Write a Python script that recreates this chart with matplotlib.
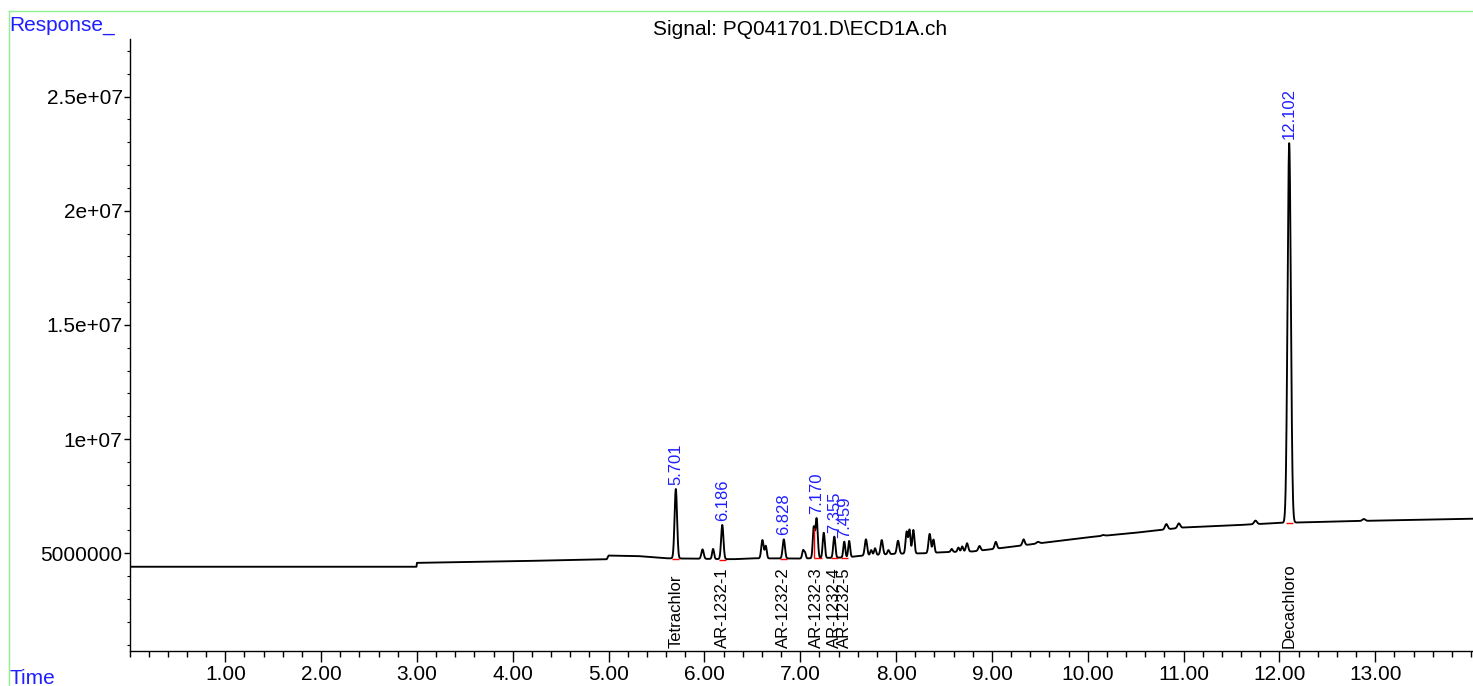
import numpy as np
import matplotlib
matplotlib.use("Agg")
import matplotlib.pyplot as plt
from matplotlib.ticker import MultipleLocator, FixedLocator, FuncFormatter
from matplotlib.lines import Line2D

plt.rcParams['font.family'] = ['Liberation Sans', 'DejaVu Sans']

# ---------------- data ----------------
title = "Signal: PQ041701.D\\ECD1A.ch"

# baseline knots: time (min), response
base_t = [0.0, 2.995, 3.0, 4.0, 4.98, 5.0, 5.3, 5.6, 6.3, 6.5, 7.0, 7.5, 7.6, 8.0,
          8.3, 8.5, 8.8, 9.0, 9.5, 10.0, 10.5, 11.0, 11.5, 12.0, 13.0, 14.1]
base_y = [4.41e6, 4.41e6, 4.58e6, 4.65e6, 4.74e6, 4.90e6, 4.88e6, 4.78e6, 4.74e6,
          4.78e6, 4.77e6, 4.82e6, 4.88e6, 4.98e6, 5.00e6, 5.05e6, 5.08e6, 5.18e6,
          5.44e6, 5.70e6, 5.90e6, 6.13e6, 6.22e6, 6.33e6, 6.43e6, 6.52e6]

# peaks: retention time, apex response, width (sigma, min)
peak_t = [5.701, 5.98, 6.09, 6.186, 6.605, 6.64, 6.828, 7.03, 7.05, 7.14, 7.170,
          7.245, 7.355, 7.459, 7.51, 7.685, 7.74, 7.78, 7.85, 7.92, 8.02, 8.11,
          8.14, 8.18, 8.35, 8.39, 8.58, 8.65, 8.69, 8.74, 8.87, 9.04, 9.33,
          9.48, 10.16, 10.82, 10.95, 11.75, 12.102, 12.88]
peak_top = [7.82e6, 5.17e6, 5.19e6, 6.24e6, 5.58e6, 5.32e6, 5.61e6, 5.14e6, 5.00e6,
            6.10e6, 6.53e6, 5.90e6, 5.73e6, 5.51e6, 5.54e6, 5.61e6, 5.14e6, 5.22e6,
            5.58e6, 5.14e6, 5.55e6, 5.95e6, 6.02e6, 6.02e6, 5.85e6, 5.60e6, 5.19e6,
            5.25e6, 5.30e6, 5.44e6, 5.32e6, 5.50e6, 5.61e6, 5.50e6, 5.80e6, 6.28e6,
            6.31e6, 6.43e6, 2.296e7, 6.50e6]
peak_w = [0.013, 0.012, 0.010, 0.012, 0.012, 0.010, 0.012, 0.010, 0.008, 0.010, 0.012,
          0.011, 0.011, 0.010, 0.010, 0.012, 0.010, 0.010, 0.012, 0.010, 0.012, 0.011,
          0.010, 0.011, 0.012, 0.010, 0.010, 0.010, 0.010, 0.012, 0.012, 0.012, 0.012,
          0.015, 0.015, 0.014, 0.014, 0.015, 0.017, 0.015]

# labelled (integrated) peaks
rt_labels = ["5.701", "6.186", "6.828", "7.170", "7.355", "7.459", "12.102"]
rt_values = [5.701, 6.186, 6.828, 7.170, 7.355, 7.459, 12.102]
compounds = ["Tetrachlor", "AR-1232-1", "AR-1232-2", "AR-1232-3",
             "AR-1232-4", "AR-1232-5", "Decachloro"]

x_ticks = [1, 2, 3, 4, 5, 6, 7, 8, 9, 10, 11, 12, 13]
y_ticks = [5e6, 1e7, 1.5e7, 2e7, 2.5e7]
y_tick_labels = ["5000000", "1e+07", "1.5e+07", "2e+07", "2.5e+07"]

# ---------------- build trace ----------------
t = np.arange(0.0, 14.05, 0.002)
baseline = np.interp(t, base_t, base_y)
signal = baseline.copy()
for pt, top, w in zip(peak_t, peak_top, peak_w):
    h = top - np.interp(pt, base_t, base_y)
    signal += h * np.exp(-0.5 * ((t - pt) / w) ** 2)

def sig_at(x):
    return float(np.interp(x, t, signal))

def base_at(x):
    return float(np.interp(x, base_t, base_y))

# ---------------- figure ----------------
W, H = 1473, 686
fig = plt.figure(figsize=(W / 100, H / 100), dpi=100)
ax = fig.add_axes([129.5 / W, 1 - 651 / H, 1 - 129.5 / W, (651 - 39.3) / H])

ax.plot(t, signal, color='black', lw=1.35)

# integration baselines (red)
for rv in rt_values:
    if abs(rv - 7.170) < 1e-6:
        x0, x1 = 7.145, 7.225
        ax.vlines(x0, base_at(x0), sig_at(x0) - 0.05e6, color='red', lw=1.0)
        ax.hlines(base_at(x0), x0, x1, color='red', lw=1.0)
    else:
        ax.hlines(base_at(rv) - 0.02e6, rv - 0.035, rv + 0.035, color='red', lw=1.0)

# retention time labels
for lab, rv in zip(rt_labels, rt_values):
    ax.annotate(lab, xy=(rv, sig_at(rv)), xytext=(0, 3), textcoords='offset points',
                rotation=90, ha='center', va='bottom', color='#1f1fff', fontsize=12)

ax.set_xlim(0, 14.02)
ax.set_ylim(0.72e6, 2.751e7)

# compound names at the bottom
for name, rv in zip(compounds, rt_values):
    ax.annotate(name, xy=(rv, 0.72e6), xytext=(0, 2), textcoords='offset points',
                rotation=90, ha='center', va='bottom', color='black', fontsize=12)

for s in ['top', 'right']:
    ax.spines[s].set_visible(False)
ax.spines['left'].set_linewidth(1.0)
ax.spines['bottom'].set_linewidth(1.0)

ax.xaxis.set_major_locator(FixedLocator(x_ticks))
ax.xaxis.set_minor_locator(MultipleLocator(0.2))
ax.xaxis.set_major_formatter(FuncFormatter(lambda v, p: f"{v:.2f}"))
ax.yaxis.set_major_locator(FixedLocator(y_ticks))
ax.set_yticklabels(y_tick_labels)
ax.yaxis.set_minor_locator(MultipleLocator(1e6))

ax.tick_params(axis='x', which='major', length=8, width=1, labelsize=15, pad=2)
ax.tick_params(axis='x', which='minor', length=4, width=1)
ax.tick_params(axis='y', which='major', length=4, width=1, labelsize=15, pad=1)
ax.tick_params(axis='y', which='minor', length=2.5, width=0.8)

# title and axis captions
fig.text(800 / W, 1 - 35 / H, title, ha='center', va='baseline', fontsize=15)
fig.text(9 / W, 1 - 31 / H, "Response_", ha='left', va='baseline', fontsize=15, color='#1f1fff')
fig.text(9 / W, 1 - 684 / H, "Time", ha='left', va='baseline', fontsize=15, color='#1f1fff')

# light green frame
fig.add_artist(Line2D([9 / W, 1.0], [1 - 11 / H, 1 - 11 / H], transform=fig.transFigure,
                      color='#8ef08e', lw=1.0))
fig.add_artist(Line2D([9 / W, 9 / W], [1 - 11 / H, 0.0], transform=fig.transFigure,
                      color='#8ef08e', lw=1.0))

fig.savefig("out.png", dpi=100)
